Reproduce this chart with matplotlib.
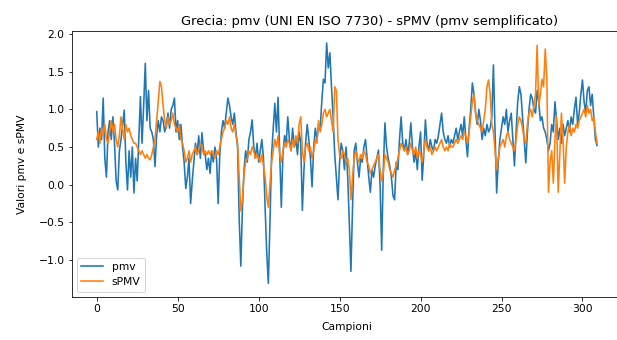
import matplotlib
matplotlib.use("Agg")
import matplotlib.pyplot as plt
import numpy as np

# valori (campioni 0..309)
pmv = [
    0.97, 0.50, 0.75, 0.60, 1.15, 0.35, 0.10, 0.70, 0.85, 0.60,
    0.90, 0.55, 0.05, -0.07, 0.45, 0.60, 0.80, 0.99, 0.30, -0.07,
    0.45, 0.10, 0.50, -0.11, 0.35, 0.05, 0.60, 1.17, 0.55, 1.05,
    1.61, 0.85, 1.25, 0.75, 0.70, 0.60, 0.24, 0.65, 0.85, 0.70,
    0.90, 0.85, 0.70, 0.80, 0.95, 0.75, 1.00, 1.05, 1.15, 0.70,
    0.85, 0.60, 0.80, 0.50, 0.30, -0.05, 0.10, 0.35, -0.25, 0.05,
    0.30, 0.55, 0.40, 0.65, 0.35, 0.69, 0.45, 0.40, 0.20, 0.35,
    0.15, 0.45, 0.30, 0.50, 0.35, -0.25, 0.40, 0.70, 0.85, 0.75,
    0.95, 1.15, 1.05, 0.90, 0.80, 0.95, 0.70, 0.50, -0.45, -1.08,
    -0.30, 0.20, 0.45, 0.30, 0.60, 0.70, 0.86, 0.50, 0.35, 0.55,
    0.30, 0.45, 0.60, 0.35, -0.30, -0.90, -1.31, -0.50, 0.40, 0.75,
    1.08, 0.70, 1.16, 0.45, -0.30, 0.40, 0.65, 0.55, 0.90, 0.60,
    0.45, 0.75, 0.50, 0.60, 0.40, 0.70, 0.55, -0.34, 0.20, 0.55,
    0.80, 0.60, 0.35, -0.03, 0.50, 0.75, 0.60, 0.80, 0.75, 1.10,
    1.40, 1.35, 1.88, 1.55, 1.75, 1.30, 0.90, 0.40, 0.10, -0.20,
    0.30, 0.55, 0.45, 0.20, 0.50, 0.10, -0.50, -1.15, -0.30, 0.45,
    0.55, 0.30, 0.10, 0.35, 0.30, 0.50, 0.60, 0.35, 0.10, -0.10,
    0.20, 0.10, 0.25, 0.35, 0.46, 0.00, -0.87, 0.20, 0.82, 0.50,
    0.35, 0.25, 0.10, -0.15, -0.20, 0.30, 0.20, 0.60, 0.90, 0.55,
    0.45, 0.60, 0.40, 0.55, 0.82, 0.50, 0.30, 0.45, 0.20, 0.50,
    0.70, 0.06, 0.40, 0.86, 0.55, 0.45, 0.60, 0.50, 0.45, 0.60,
    0.55, 0.65, 0.80, 0.95, 0.70, 0.60, 0.55, 0.65, 0.50, 0.60,
    0.55, 0.65, 0.75, 0.60, 0.70, 0.80, 0.65, 0.90, 0.60, 0.37,
    0.75, 1.00, 1.35, 1.20, 0.95, 0.80, 1.00, 0.85, 0.60, 0.75,
    0.65, 0.80, 0.70, 0.75, 0.90, 1.59, 0.70, -0.11, 0.30, 0.60,
    0.75, 0.90, 0.80, 1.00, 0.70, 0.85, 0.95, 0.60, 0.25, 0.70,
    1.10, 1.30, 1.20, 0.90, 0.60, 0.29, 0.70, 1.00, 1.20, 1.15,
    1.00, 0.95, 1.25, 1.10, 0.85, 0.90, 0.75, 0.70, 0.60, 0.45,
    0.55, 0.80, 0.70, 1.10, 0.85, 0.60, 0.75, 0.55, 0.80, 0.65,
    0.75, 0.85, 0.70, 0.90, 0.80, 1.00, 1.16, 0.80, 0.95, 1.20,
    1.39, 1.10, 0.95, 1.25, 1.30, 1.05, 1.20, 0.90, 0.60, 0.52,
]

spmv = [
    0.60, 0.70, 0.55, 0.75, 0.65, 0.80, 0.60, 0.55, 0.70, 0.85,
    0.70, 0.80, 0.60, 0.50, 0.65, 0.90, 0.75, 0.60, 0.80, 0.70,
    0.75, 0.65, 0.60, 0.55, 0.55, 0.50, 0.45, 0.40, 0.45, 0.40,
    0.35, 0.40, 0.35, 0.33, 0.40, 0.50, 0.60, 0.85, 1.10, 1.37,
    1.30, 1.05, 0.85, 0.75, 0.90, 0.80, 0.85, 0.95, 0.80, 0.75,
    0.70, 0.80, 0.60, 0.55, 0.45, 0.30, 0.35, 0.45, 0.30, 0.40,
    0.45, 0.50, 0.40, 0.45, 0.55, 0.50, 0.40, 0.45, 0.40, 0.45,
    0.40, 0.45, 0.40, 0.35, 0.45, 0.40, 0.50, 0.60, 0.70, 0.75,
    0.85, 0.80, 0.90, 0.75, 0.70, 0.80, 0.65, 0.55, 0.10, -0.35,
    -0.20, 0.15, 0.30, 0.35, 0.45, 0.40, 0.50, 0.45, 0.35, 0.40,
    0.35, 0.30, 0.40, 0.25, 0.10, -0.15, -0.30, 0.00, 0.30, 0.45,
    0.60, 0.50, 0.65, 0.40, 0.30, 0.45, 0.55, 0.50, 0.60, 0.55,
    0.45, 0.60, 0.50, 0.65, 0.55, 0.80, 0.90, 0.45, 0.30, 0.50,
    0.55, 0.45, 0.50, 0.35, 0.45, 0.60, 0.55, 0.85, 0.70, 0.80,
    0.95, 1.00, 0.90, 0.95, 1.00, 0.85, 0.70, 1.30, 1.25, 0.60,
    0.40, 0.35, 0.45, 0.40, 0.30, 0.35, 0.20, -0.20, 0.10, 0.35,
    0.45, 0.35, 0.30, 0.40, 0.35, 0.45, 0.40, 0.30, 0.25, 0.15,
    0.20, 0.25, 0.30, 0.35, 0.40, 0.20, 0.05, 0.15, 0.40, 0.35,
    0.30, 0.20, 0.15, 0.10, 0.20, 0.25, 0.35, 0.45, 0.55, 0.50,
    0.45, 0.50, 0.40, 0.45, 0.55, 0.45, 0.40, 0.50, 0.35, 0.45,
    0.40, 0.30, 0.45, 0.60, 0.50, 0.45, 0.50, 0.40, 0.45, 0.50,
    0.45, 0.50, 0.55, 0.60, 0.50, 0.45, 0.50, 0.45, 0.55, 0.50,
    0.50, 0.55, 0.60, 0.55, 0.60, 0.65, 0.60, 0.70, 0.65, 0.55,
    0.70, 0.90, 1.10, 1.20, 0.95, 0.85, 0.80, 0.75, 0.70, 0.85,
    1.00, 1.30, 1.39, 1.20, 0.80, 0.70, 0.45, 0.20, 0.35, 0.50,
    0.55, 0.60, 0.50, 0.65, 0.70, 0.60, 0.55, 0.50, 0.45, 0.60,
    0.80, 0.90, 0.85, 0.75, 0.60, 0.55, 0.80, 0.95, 1.00, 0.90,
    1.05, 1.20, 1.85, 1.05, 1.20, 1.40, 1.30, 1.80, 1.40, -0.10,
    0.30, 0.45, 0.02, 0.60, 0.90, -0.10, 0.40, 0.95, 0.60, 0.02,
    0.50, 0.70, 0.80, 0.65, 0.75, 0.70, 0.80, 0.75, 0.85, 0.90,
    0.95, 1.00, 0.90, 1.05, 0.95, 1.00, 0.85, 0.90, 0.70, 0.55,
]

campioni = np.arange(len(pmv))

plt.rcParams["font.size"] = 10.8

fig = plt.figure(figsize=(617 / 72, 340 / 72), dpi=72)
# l'asse continua oltre il bordo destro (immagine ritagliata)
ax = fig.add_axes([0.1162, 0.1265, 0.892, 0.7824])

ax.plot(campioni, pmv, label="pmv", lw=1.6)
ax.plot(campioni, spmv, label="sPMV", lw=1.6)

ax.set_xlim(-15.45, 324.45)
ax.set_ylim(-1.49, 2.04)
ax.set_title("Grecia: pmv (UNI EN ISO 7730) - sPMV (pmv semplificato)",
             x=0.542, fontsize=13)
ax.set_xlabel("Campioni", labelpad=8)
ax.set_ylabel("Valori pmv e sPMV", labelpad=12)
ax.legend(loc="lower left")

fig.savefig("out.png", dpi=72)
